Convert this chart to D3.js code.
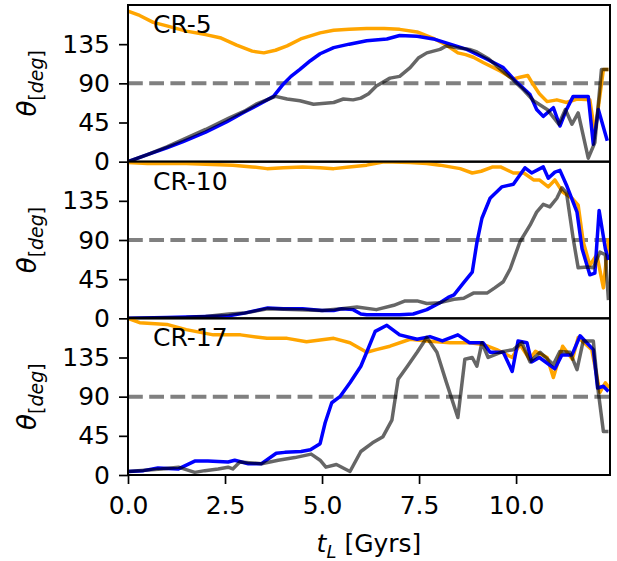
<!DOCTYPE html>
<html>
<head>
<meta charset="utf-8">
<script src="https://cdn.jsdelivr.net/npm/d3@7"></script>
<style>
  body { margin: 0; background: #fff; }
  text { font-family: 'DejaVu Sans', sans-serif; fill: #000; }
</style>
</head>
<body>
<svg id="chart" width="617" height="561"></svg>
<script>
// tick labels / panel names
const xTicks = [0, 2.5, 5, 7.5, 10]
const yTicks = [0, 45, 90, 135]
const panelNames = ['CR-5', 'CR-10', 'CR-17']

// [t_L (Gyr), theta (deg)]
const cr5Orange = [[0,173],[0.3,168],[0.65,160],[1.0,156],[1.5,150],[2.0,146],[2.4,142],[2.8,134],[3.2,127],[3.5,125],[3.8,128],[4.1,133],[4.45,141],[4.95,148],[5.3,151],[5.7,152],[6.15,153],[6.6,153],[7.0,152],[7.45,149],[7.9,141],[8.2,134],[8.5,125],[8.7,123],[8.9,120],[9.15,114],[9.6,104],[9.93,95],[10.1,97],[10.3,99],[10.45,88],[10.6,78],[10.8,69],[11.05,71],[11.3,68],[11.57,72],[11.9,71],[12.03,33],[12.25,106],[12.38,106]]
const cr5Blue = [[0,0],[0.5,8],[1.0,16],[1.42,23],[2.0,34],[2.55,46],[3.0,57],[3.3,64],[3.75,75],[4.0,89],[4.2,98],[4.43,106],[4.7,116],[4.95,124],[5.3,131],[5.7,135],[6.15,139],[6.67,141],[7.0,145],[7.45,144],[7.87,141],[8.3,135],[8.73,129],[9.24,118],[9.67,108],[10.0,92],[10.36,77],[10.53,60],[10.7,52],[10.96,62],[11.13,41],[11.3,60],[11.47,75],[11.86,75],[11.99,20],[12.12,60],[12.35,24]]
const cr5Gray = [[0,0],[0.5,8],[1.0,17],[1.4,25],[2.0,37],[2.6,50],[3.0,58],[3.3,66],[3.8,75],[4.1,72],[4.43,70],[4.78,66],[5.3,68],[5.55,72],[5.8,71],[6.0,73],[6.2,78],[6.4,87],[6.75,96],[7.0,98],[7.27,108],[7.48,119],[7.7,125],[8.04,129],[8.2,133],[8.47,131],[8.8,129],[8.99,126],[9.3,118],[9.6,106],[9.9,95],[10.2,82],[10.45,70],[10.8,60],[11.1,43],[11.27,60],[11.44,43],[11.6,56],[11.86,4],[12.03,22],[12.2,106],[12.38,106]]

const cr10Orange = [[0,179],[0.5,178],[1.0,178],[1.5,178],[2.0,177],[2.7,176],[3.2,174],[3.58,172],[4.0,173],[4.5,174],[4.95,173],[5.3,172],[5.7,174],[6.15,176],[6.6,180],[7.27,179],[7.7,178],[8.04,176],[8.56,172],[8.87,167],[9.1,169],[9.4,174],[9.6,174],[9.93,167],[10.2,167],[10.45,159],[10.6,159],[10.83,151],[11.0,159],[11.2,145],[11.44,138],[11.6,130],[11.73,88],[11.9,61],[12.08,73],[12.25,35],[12.38,92]]
const cr10Blue = [[0,0],[1.0,1],[2.0,2],[2.6,3],[3.0,6],[3.6,12],[4.0,11],[4.5,11],[5.0,9],[5.3,9],[5.5,11],[5.8,10],[6.0,5],[6.15,4],[6.6,4],[7.0,4],[7.35,5],[7.7,10],[8.04,18],[8.25,24],[8.4,27],[8.65,41],[8.87,53],[8.99,87],[9.12,115],[9.33,138],[9.63,151],[9.93,154],[10.23,173],[10.4,167],[10.7,174],[10.83,161],[11.0,168],[11.13,170],[11.3,153],[11.57,122],[11.7,80],[11.9,50],[12.03,52],[12.14,124],[12.3,80],[12.38,67]]
const cr10Gray = [[0,0],[1.5,1],[2.0,2],[2.6,5],[3.0,6],[3.6,11],[4.43,10],[5.0,9],[5.5,11],[5.9,13],[6.4,10],[6.85,15],[7.14,20],[7.45,20],[7.7,17],[8.04,18],[8.4,22],[8.65,23],[8.9,29],[9.25,29],[9.45,35],[9.67,42],[9.85,57],[10.1,88],[10.36,107],[10.53,122],[10.7,131],[10.87,128],[11.05,138],[11.18,150],[11.3,144],[11.47,92],[11.6,58],[11.83,59],[11.99,58],[12.16,76],[12.3,73],[12.38,21]]

const cr17Orange = [[0,180],[0.3,175],[1.0,173],[1.5,167],[2.2,161],[2.9,161],[3.58,157],[4.1,157],[4.6,153],[4.95,155],[5.3,157],[5.72,152],[6.15,141],[6.4,144],[6.75,148],[7.27,156],[7.7,154],[8.3,152],[8.8,152],[9.15,150],[9.5,144],[9.9,135],[10.1,150],[10.35,133],[10.5,142],[10.8,135],[10.96,112],[11.2,148],[11.45,133],[11.6,158],[11.95,144],[12.16,95],[12.3,106],[12.4,100]]
const cr17Blue = [[0,4],[0.4,5],[0.77,8],[1.3,7],[1.72,16],[2.06,16],[2.58,15],[2.75,17],[3.1,13],[3.44,13],[3.82,25],[4.04,26],[4.46,27],[4.7,29],[4.95,36],[5.08,60],[5.25,83],[5.46,90],[5.72,106],[6.0,125],[6.15,141],[6.37,165],[6.67,172],[7.0,161],[7.45,156],[7.78,159],[8.1,154],[8.5,161],[8.8,152],[9.15,152],[9.33,141],[9.67,141],[9.9,119],[10.05,154],[10.28,152],[10.4,130],[10.6,135],[11.0,122],[11.18,138],[11.44,138],[11.65,160],[11.99,144],[12.1,100],[12.25,102],[12.38,96]]
const cr17Gray = [[0,4],[0.86,7],[1.3,9],[1.72,3],[1.98,5],[2.32,7],[2.58,9],[2.7,7],[2.88,15],[3.44,13],[3.87,17],[4.3,20],[4.72,24],[4.95,17],[5.1,9],[5.37,12],[5.72,4],[6.0,27],[6.3,37],[6.57,44],[6.8,63],[6.96,110],[7.2,125],[7.45,141],[7.7,158],[7.96,141],[8.2,107],[8.5,66],[8.68,133],[8.87,135],[8.99,125],[9.12,152],[9.28,135],[9.67,142],[9.93,144],[10.15,152],[10.36,130],[10.62,141],[10.96,127],[11.13,142],[11.39,141],[11.57,121],[11.73,154],[11.99,154],[12.12,95],[12.25,50],[12.38,50]]

const panels = [
  { name: panelNames[0], orange: cr5Orange, blue: cr5Blue, gray: cr5Gray },
  { name: panelNames[1], orange: cr10Orange, blue: cr10Blue, gray: cr10Gray },
  { name: panelNames[2], orange: cr17Orange, blue: cr17Blue, gray: cr17Gray },
]

const margin = { left: 128, right: 7, top: 5, bottom: 86 }
const size = { width: 617, height: 561 }
const plotW = size.width - margin.left - margin.right
const panelH = (size.height - margin.top - margin.bottom) / 3
const fontSize = 25

const svg = d3.select('#chart')

const x = d3.scaleLinear()
  .domain([0, 12.42])
  .range([0, plotW])

panels.forEach((p, i) => {
  const top = margin.top + i * panelH
  const y = d3.scaleLinear().domain([0, 180]).range([panelH, 0])

  const g = svg.append('g')
    .attr('transform', `translate(${margin.left},${top})`)

  g.append('clipPath')
    .attr('id', 'clip' + i)
    .append('rect')
      .attr('width', plotW)
      .attr('height', panelH)

  const line = d3.line()
    .x(d => x(d[0]))
    .y(d => y(d[1]))

  // reference line at 90 deg
  g.append('line')
    .attr('x1', 0).attr('x2', plotW)
    .attr('y1', y(90)).attr('y2', y(90))
    .style('stroke', '#808080')
    .style('stroke-width', 4)
    .style('stroke-dasharray', '14.8,6.4')

  const series = [
    { data: p.orange, color: 'orange', opacity: 1 },
    { data: p.blue, color: 'blue', opacity: 1 },
    { data: p.gray, color: 'black', opacity: 0.6 },
  ]
  g.selectAll('.line')
    .data(series)
    .enter()
      .append('path')
      .attr('class', 'line')
      .attr('clip-path', `url(#clip${i})`)
      .attr('d', d => line(d.data))
      .style('fill', 'none')
      .style('stroke', d => d.color)
      .style('stroke-opacity', d => d.opacity)
      .style('stroke-width', 3.5)
      .style('stroke-linejoin', 'round')

  const yAxis = g.append('g')
    .call(d3.axisLeft(y).tickValues(yTicks).tickSize(9).tickPadding(9))
  yAxis.select('.domain').remove()
  yAxis.selectAll('line').style('stroke-width', 1.7)
  yAxis.selectAll('text')
    .style('font-family', "'DejaVu Sans', sans-serif")
    .style('font-size', fontSize + 'px')
    .attr('fill', '#000')

  if (i === panels.length - 1) {
    const xAxis = g.append('g')
      .attr('transform', `translate(0,${panelH})`)
      .call(d3.axisBottom(x).tickValues(xTicks).tickFormat(d3.format('.1f')).tickSize(9).tickPadding(12))
    xAxis.select('.domain').remove()
    xAxis.selectAll('line').style('stroke-width', 1.7)
    xAxis.selectAll('text')
      .style('font-family', "'DejaVu Sans', sans-serif")
      .style('font-size', fontSize + 'px')
      .attr('fill', '#000')
  }

  // frame
  g.append('rect')
    .attr('width', plotW)
    .attr('height', panelH)
    .style('fill', 'none')
    .style('stroke', '#000')
    .style('stroke-width', 2)

  g.append('text')
    .attr('x', 25)
    .attr('y', 28)
    .style('font-size', fontSize + 'px')
    .text(p.name)

  // y label: theta_[deg]
  const yl = g.append('text')
    .attr('transform', `translate(${36 - margin.left},${panelH / 2}) rotate(-90)`)
    .attr('text-anchor', 'middle')
    .style('font-size', '26px')
  yl.append('tspan').style('font-style', 'italic').text('θ')
  const sub = yl.append('tspan').attr('dy', 7).style('font-size', '19px')
  sub.append('tspan').text('[')
  sub.append('tspan').style('font-style', 'italic').text('deg')
  sub.append('tspan').text(']')
})

// x label: t_L [Gyrs]
const xl = svg.append('text')
  .attr('x', margin.left + plotW / 2)
  .attr('y', 552)
  .attr('text-anchor', 'middle')
  .style('font-size', fontSize + 'px')
xl.append('tspan').style('font-style', 'italic').text('t')
xl.append('tspan').attr('dy', 6).style('font-size', '18px').style('font-style', 'italic').text('L')
xl.append('tspan').attr('dy', -6).text(' [Gyrs]')
</script>
</body>
</html>
